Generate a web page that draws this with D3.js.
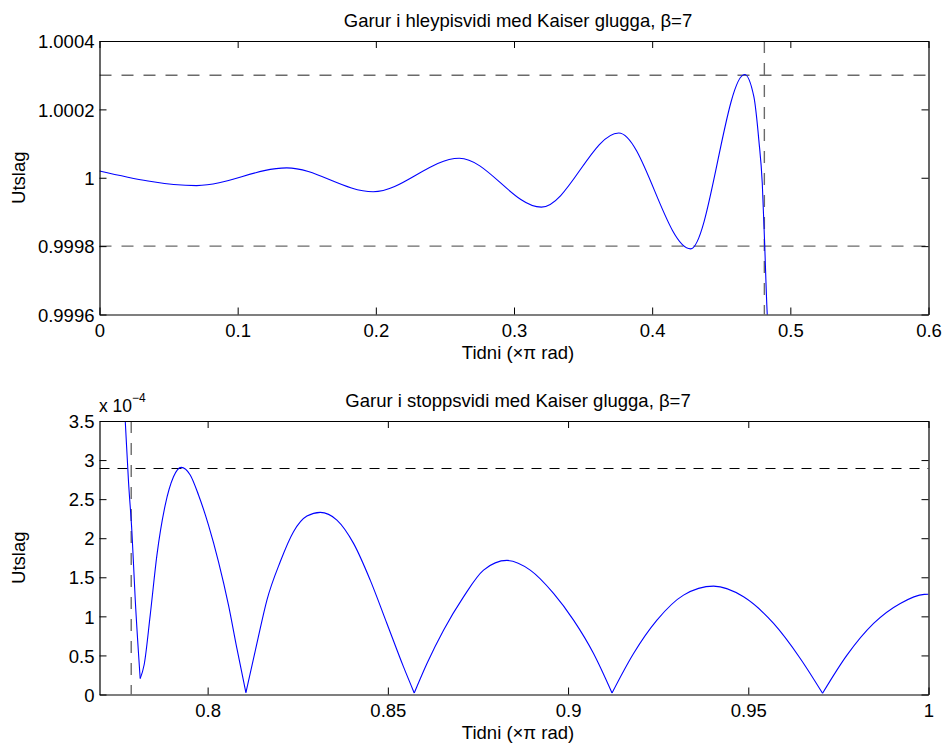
<!DOCTYPE html>
<html><head><meta charset="utf-8">
<script src="https://cdn.jsdelivr.net/npm/d3@7"></script>
<style>
html,body{margin:0;padding:0;background:#fff;}
svg{display:block;}
text{font-family:"Liberation Sans",Arial,Helvetica,sans-serif;fill:#000;}
</style></head>
<body>
<svg id="chart" width="944" height="744"></svg>
<script>
// ---------- DATA ----------
// Top: passband response (x in units of pi rad)
const topX = [0, 0.0703, 0.1355, 0.198, 0.2604, 0.3198, 0.3758, 0.4278, 0.4669, 0.4736, 0.4772, 0.4797, 0.4814, 0.4833, 0.485];
const topY = [1.00002, 0.999977, 1.000029, 0.999959, 1.000057, 0.999914, 1.000131, 0.999792, 1.000302, 1.000237, 1.00011, 0.999983, 0.999808, 0.9996, 0.99953];
const topXTicks = [0, 0.1, 0.2, 0.3, 0.4, 0.5, 0.6];
const topXLabels = ["0", "0.1", "0.2", "0.3", "0.4", "0.5", "0.6"];
const topYTicks = [0.9996, 0.9998, 1, 1.0002, 1.0004];
const topYLabels = ["0.9996", "0.9998", "1", "1.0002", "1.0004"];
const topHLines = [1.0003, 0.9998];
const topVLine = 0.4812;
const topTitle = "Garur i hleypisvidi med Kaiser glugga, \u03B2=7";

// Bottom: stopband response (values in units of 1e-4)
const botX = [0.7764, 0.77713, 0.77805, 0.77899, 0.7799, 0.78129, 0.7824, 0.78407, 0.78593, 0.78823, 0.79053, 0.79267, 0.79517, 0.79747, 0.80024, 0.80302, 0.80579, 0.80812, 0.81062, 0.81367, 0.81645, 0.82014, 0.82383, 0.82755, 0.83124, 0.83587, 0.84048, 0.84511, 0.84974, 0.85435, 0.85732, 0.86085, 0.86545, 0.871, 0.87655, 0.88304, 0.8895, 0.89597, 0.90152, 0.90707, 0.9122, 0.91817, 0.92466, 0.93204, 0.94037, 0.94869, 0.95702, 0.96442, 0.97061, 0.97738, 0.98477, 0.99217, 0.99883, 1.0];
const botY = [4.1, 3.513, 2.723, 2.083, 1.229, 0.205, 0.384, 1.016, 1.784, 2.424, 2.787, 2.907, 2.809, 2.553, 2.168, 1.698, 1.144, 0.589, 0.025, 0.653, 1.208, 1.698, 2.083, 2.283, 2.331, 2.232, 1.934, 1.464, 0.909, 0.353, 0.02, 0.397, 0.823, 1.25, 1.592, 1.716, 1.592, 1.294, 0.952, 0.525, 0.02, 0.525, 0.952, 1.272, 1.387, 1.25, 0.909, 0.461, 0.015, 0.503, 0.909, 1.165, 1.281, 1.283];
const botXTicks = [0.8, 0.85, 0.9, 0.95, 1];
const botXLabels = ["0.8", "0.85", "0.9", "0.95", "1"];
const botYTicks = [0, 0.5, 1, 1.5, 2, 2.5, 3, 3.5];
const botYLabels = ["0", "0.5", "1", "1.5", "2", "2.5", "3", "3.5"];
const botHLine = 2.9;
const botVLine = 0.7788;
const botTitle = "Garur i stoppsvidi med Kaiser glugga, \u03B2=7";

const xLabel = "Tidni (\u00D7\u03C0 rad)";
const yLabel = "Utslag";

// ---------- LAYOUT ----------
const svg = d3.select("#chart");
const FS = 18.5;
const L = 99.5, R = 928.5;
const panels = [
  {top: 41, bottom: 314.5, xd: [0, 0.6], yd: [0.9996, 1.0004], xs: topX, ys: topY,
   xt: topXTicks, xl: topXLabels, yt: topYTicks, yl: topYLabels, title: topTitle, id: "c1"},
  {top: 421, bottom: 694.5, xd: [0.77, 1], yd: [0, 3.5], xs: botX, ys: botY,
   xt: botXTicks, xl: botXLabels, yt: botYTicks, yl: botYLabels, title: botTitle, id: "c2"}
];

panels.forEach((p, pi) => {
  const x = d3.scaleLinear().domain(p.xd).range([L, R]);
  const y = d3.scaleLinear().domain(p.yd).range([p.bottom, p.top]);
  const g = svg.append("g");

  g.append("clipPath").attr("id", p.id).append("rect")
    .attr("x", L).attr("y", p.top).attr("width", R - L).attr("height", p.bottom - p.top);

  // reference dashed lines
  const dl = g.append("g").attr("clip-path", `url(#${p.id})`);
  if (pi === 0) {
    topHLines.forEach(v => {
      dl.append("line").attr("x1", L).attr("x2", R).attr("y1", y(v)).attr("y2", y(v))
        .attr("stroke", "#6a6a6a").attr("stroke-width", 1.4).attr("stroke-dasharray", "12,10");
    });
    dl.append("line").attr("x1", x(topVLine)).attr("x2", x(topVLine)).attr("y1", p.top).attr("y2", p.bottom)
      .attr("stroke", "#6a6a6a").attr("stroke-width", 1.4).attr("stroke-dasharray", "12,10");
  } else {
    dl.append("line").attr("x1", L).attr("x2", R).attr("y1", Math.round(y(botHLine)) + 0.5).attr("y2", Math.round(y(botHLine)) + 0.5)
      .attr("stroke", "#000").attr("stroke-width", 1).attr("stroke-dasharray", "10,8");
    dl.append("line").attr("x1", x(botVLine)).attr("x2", x(botVLine)).attr("y1", p.top).attr("y2", p.bottom)
      .attr("stroke", "#6a6a6a").attr("stroke-width", 1.4).attr("stroke-dasharray", "12,10");
  }

  // curve
  const pts = p.xs.map((v, i) => [v, p.ys[i]]);
  const line = d3.line().x(d => x(d[0])).y(d => y(d[1])).curve(d3.curveMonotoneX);
  let segs = [pts];
  if (pi === 1) {
    // split at sharp nulls (local minima) so the V-shapes stay sharp
    segs = [];
    let start = 0;
    for (let i = 1; i < pts.length - 1; i++) {
      if (pts[i][1] < pts[i - 1][1] && pts[i][1] < pts[i + 1][1]) {
        segs.push(pts.slice(start, i + 1));
        start = i;
      }
    }
    segs.push(pts.slice(start));
  }
  const cg = g.append("g").attr("clip-path", `url(#${p.id})`);
  segs.forEach(s => {
    cg.append("path").attr("d", line(s)).attr("fill", "none")
      .attr("stroke", "#0000ff").attr("stroke-width", 1.1).attr("stroke-linejoin", "round");
  });

  // axes (MATLAB box with inward ticks)
  const ax = g.append("g").attr("class", "axes");
  const bx = ax.append("g").attr("transform", `translate(0,${p.bottom})`)
    .call(d3.axisBottom(x).tickValues(p.xt).tickFormat((d, i) => p.xl[i]).tickSizeInner(-7).tickSizeOuter(0).tickPadding(0));
  bx.selectAll("text").attr("y", 22.5).attr("dy", null).style("font-size", FS + "px");
  ax.append("g").attr("transform", `translate(0,${p.top})`)
    .call(d3.axisTop(x).tickValues(p.xt).tickFormat("").tickSizeInner(-7).tickSizeOuter(0));
  const ly = ax.append("g").attr("transform", `translate(${L},0)`)
    .call(d3.axisLeft(y).tickValues(p.yt).tickFormat((d, i) => p.yl[i]).tickSizeInner(-7).tickSizeOuter(0).tickPadding(0));
  ly.selectAll("text").attr("x", -5).attr("dy", "0.36em").style("font-size", FS + "px");
  ax.append("g").attr("transform", `translate(${R},0)`)
    .call(d3.axisRight(y).tickValues(p.yt).tickFormat("").tickSizeInner(-7).tickSizeOuter(0));
  ax.selectAll("path.domain").attr("stroke", "#000").attr("stroke-width", 1.2);
  ax.selectAll(".tick line").attr("stroke", "#000").attr("stroke-width", 1);
  ax.selectAll("text").attr("font-family", null);

  // title & labels
  g.append("text").attr("x", (L + R) / 2 + 4).attr("y", p.top - 14.5).attr("text-anchor", "middle")
    .style("font-size", FS + "px").text(p.title);
  g.append("text").attr("x", (L + R) / 2 + 4).attr("y", p.bottom + 44.5).attr("text-anchor", "middle")
    .style("font-size", FS + "px").text(xLabel);
  g.append("text").attr("transform", `translate(25,${(p.top + p.bottom) / 2}) rotate(-90)`)
    .attr("text-anchor", "middle").style("font-size", FS + "px").text(yLabel);
});

// exponent label for bottom panel
const ex = svg.append("text").attr("x", 99).attr("y", 412).style("font-size", "17.5px");
ex.append("tspan").text("x 10");
ex.append("tspan").attr("dy", -10).style("font-size", "12px").text("\u22124");
</script>
</body></html>
